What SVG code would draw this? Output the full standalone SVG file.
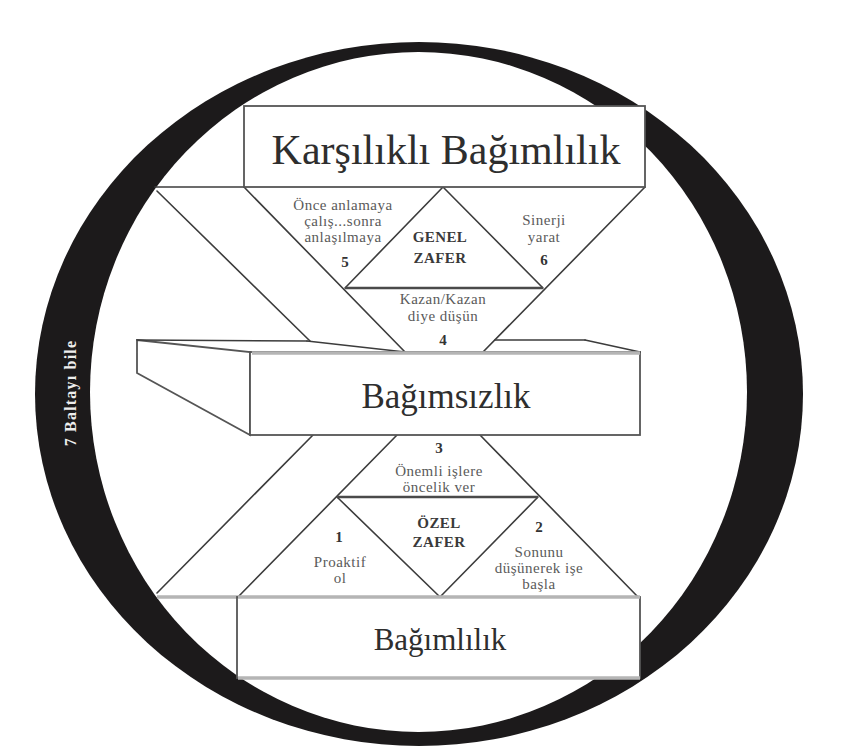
<svg xmlns="http://www.w3.org/2000/svg" width="850" height="749" viewBox="0 0 850 749">
<style>
.ln{stroke:#3c3c3c;stroke-width:1.6;fill:none;stroke-linecap:round}
.bar{stroke:#4a4a4a;stroke-width:2.6;fill:none}
.box{fill:#fff;stroke:#555;stroke-width:1.8}
.lite{stroke:#b5b5b5;stroke-width:3.5;fill:none}
.big{font-family:"Liberation Serif","DejaVu Serif",serif;fill:#2e2e2e;text-anchor:middle}
.sm{font-family:"Liberation Serif","DejaVu Serif",serif;font-size:15px;letter-spacing:0.5px;fill:#5a5a5a;text-anchor:middle}
.num{font-family:"Liberation Serif","DejaVu Serif",serif;font-size:15px;font-weight:bold;fill:#333;text-anchor:middle}
.bold{font-family:"Liberation Serif","DejaVu Serif",serif;font-size:15px;letter-spacing:0.4px;font-weight:bold;fill:#3a3a3a;text-anchor:middle}
</style>
<rect width="850" height="749" fill="#fff"/>
<g id="ring">
<ellipse cx="419" cy="394" rx="384" ry="352" fill="#1c1a1b"/>
<ellipse cx="418.5" cy="392" rx="328.5" ry="340" fill="#fff"/>
<text transform="translate(76,393) rotate(-90)" font-family="Liberation Serif,DejaVu Serif,serif" font-size="16" font-weight="bold" fill="#eee" text-anchor="middle" letter-spacing="1.2">7 Baltayı bile</text>
</g>
<g id="connectors">
<line class="ln" x1="155" y1="187" x2="244" y2="187"/>
<line class="ln" x1="157" y1="191" x2="310" y2="341"/>
<line class="ln" x1="244" y1="187" x2="405" y2="352"/>
<line class="ln" x1="443" y1="187" x2="345" y2="288"/>
<line class="ln" x1="443" y1="187" x2="543" y2="288"/>
<line class="ln" x1="645" y1="187" x2="483" y2="352"/>
<line class="bar" x1="345" y1="288" x2="543" y2="288"/>
<line class="ln" x1="313" y1="435" x2="157" y2="593"/>
<line class="ln" x1="397" y1="435" x2="238" y2="597"/>
<line class="ln" x1="480" y1="435" x2="638" y2="597"/>
<line class="ln" x1="337" y1="497" x2="440" y2="597"/>
<line class="ln" x1="538" y1="497" x2="440" y2="597"/>
<line class="bar" x1="337" y1="497" x2="538" y2="497"/>
<line class="lite" x1="157" y1="597" x2="238" y2="597"/>
</g>
<g id="box-karsilikli">
<rect class="box" x="244" y="106" width="401" height="81"/>
<text class="big" x="446" y="164" font-size="42">Karşılıklı Bağımlılık</text>
</g>
<g id="box-bagimsizlik">
<polygon class="box" points="137,340 250,352 250,435 137,373"/>
<rect class="box" x="250" y="352" width="390" height="83"/>
<line class="ln" x1="137" y1="340" x2="307" y2="341"/>
<line class="ln" x1="307" y1="341" x2="405" y2="352"/>
<line class="ln" x1="495" y1="340" x2="585" y2="340"/>
<line class="ln" x1="585" y1="340" x2="640" y2="352"/>
<line class="lite" x1="252" y1="353" x2="640" y2="353"/>
<text class="big" x="446" y="408" font-size="35">Bağımsızlık</text>
</g>
<g id="box-bagimlilik">
<rect class="box" x="237" y="597" width="403" height="81"/>
<line class="lite" x1="238" y1="597" x2="640" y2="597"/>
<line class="lite" x1="238" y1="678" x2="640" y2="678"/>
<text class="big" x="440" y="650" font-size="31">Bağımlılık</text>
</g>
<g id="habit-5">
<text class="sm" x="343" y="210">Önce anlamaya</text>
<text class="sm" x="343" y="226">çalış...sonra</text>
<text class="sm" x="343" y="242">anlaşılmaya</text>
<text class="num" x="345" y="267">5</text>
</g>
<g id="genel-zafer">
<text class="bold" x="440" y="242">GENEL</text>
<text class="bold" x="440" y="263">ZAFER</text>
</g>
<g id="habit-6">
<text class="sm" x="544" y="225">Sinerji</text>
<text class="sm" x="544" y="242">yarat</text>
<text class="num" x="544" y="265">6</text>
</g>
<g id="habit-4">
<text class="sm" x="443" y="304">Kazan/Kazan</text>
<text class="sm" x="443" y="321">diye düşün</text>
<text class="num" x="443" y="345">4</text>
</g>
<g id="habit-3">
<text class="num" x="439" y="453">3</text>
<text class="sm" x="439" y="476">Önemli işlere</text>
<text class="sm" x="439" y="492">öncelik ver</text>
</g>
<g id="ozel-zafer">
<text class="bold" x="439" y="528">ÖZEL</text>
<text class="bold" x="439" y="547">ZAFER</text>
</g>
<g id="habit-1">
<text class="num" x="339" y="542">1</text>
<text class="sm" x="340" y="567">Proaktif</text>
<text class="sm" x="340" y="583">ol</text>
</g>
<g id="habit-2">
<text class="num" x="539" y="532">2</text>
<text class="sm" x="539" y="557">Sonunu</text>
<text class="sm" x="539" y="573">düşünerek işe</text>
<text class="sm" x="539" y="589">başla</text>
</g>
</svg>
